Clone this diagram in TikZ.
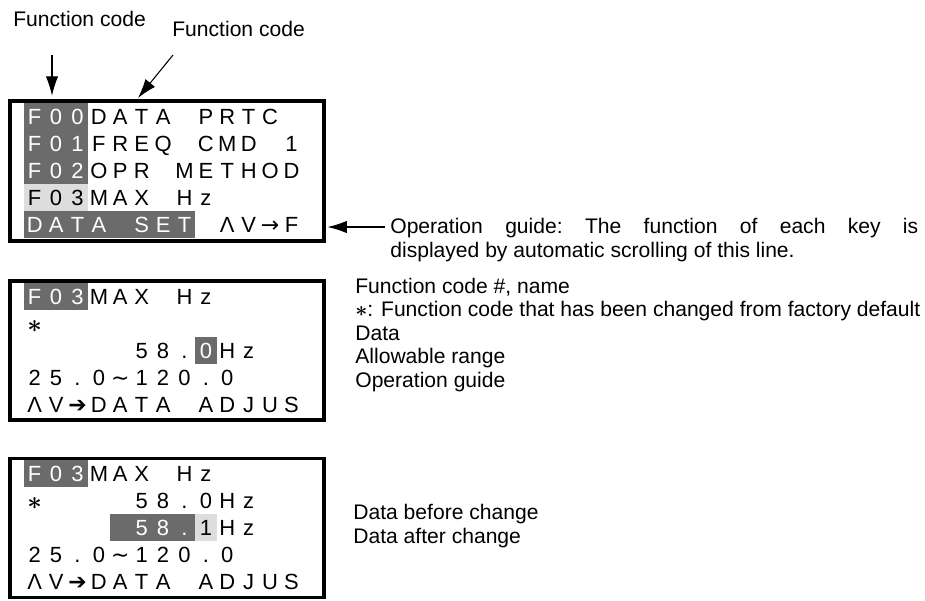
\documentclass[tikz,border=0pt]{standalone}
\usepackage{fontspec}
\setmainfont{Liberation Sans}
\newfontfamily\symfont{DejaVu Sans}
\usetikzlibrary{positioning,arrows.meta}
\definecolor{lcddark}{HTML}{6B6B6B}
\definecolor{lcdlight}{HTML}{DDDDDD}

\tikzset{
  lcdframe/.style={draw, line width=2pt, minimum width=6.28cm, inner sep=0pt},
  lcdchar/.style={anchor=base, inner sep=0pt, font=\fontsize{12.5}{14}\selectfont},
  inv/.style={text=white},
  note/.style={anchor=base west, inner sep=0pt, font=\fontsize{12}{13.3}\selectfont},
  ptr/.style={-{Latex[length=11pt,width=7pt]}, line width=0.6pt},
}

% one word of a display line: name prefix, row top, first column, letters
\newcommand{\lcdword}[5][]{%
  \foreach \ch [count=\k from #4] in {#5}
    \node[lcdchar,#1] (#2\k) at ({34.7+21.4*\k}, {#3+21}) {\ch};
}
\newcommand{\lcdast}{\raisebox{-1pt}{\fontsize{14.5}{14.5}\selectfont\boldmath$\ast$}}
\newcommand{\noteast}{{\boldmath$\ast$}}
\newcommand{\lcdarrow}{{\symfont\char"2794}}
\newcommand{\lcdwave}{{\symfont\char"223C}}

\begin{document}
\begin{tikzpicture}[x=0.02cm, y=-0.02cm]
  \useasboundingbox (0,0) rectangle (925,600);

  % Callouts above the first display
  \node[note] (fc1) at (13,26) {Function code};
  \node[note] (fc2) at (172,36) {Function code};

  % Display 1: function menu
  \node[lcdframe, minimum height=2.8cm] (box1) at (167,171) {};
  \fill[lcddark] (24,103) rectangle (88.2,184);
  \fill[lcdlight] (24,184) rectangle (88.2,211);
  \fill[lcddark] (24,211) rectangle (195.2,238);
  \lcdword[inv]{b1r0c}{103}{0}{F,0,0}
  \lcdword{b1r0c}{103}{3}{D,A,T,A}
  \lcdword{b1r0c}{103}{8}{P,R,T,C}
  \lcdword[inv]{b1r1c}{130}{0}{F,0,1}
  \lcdword{b1r1c}{130}{3}{F,R,E,Q}
  \lcdword{b1r1c}{130}{8}{C,M,D}
  \lcdword{b1r1c}{130}{12}{1}
  \lcdword[inv]{b1r2c}{157}{0}{F,0,2}
  \lcdword{b1r2c}{157}{3}{O,P,R}
  \lcdword{b1r2c}{157}{7}{M,E,T,H,O,D}
  \lcdword{b1r3c}{184}{0}{F,0,3}
  \lcdword{b1r3c}{184}{3}{M,A,X}
  \lcdword{b1r3c}{184}{7}{H,z}
  \lcdword[inv]{b1r4c}{211}{0}{D,A,T,A}
  \lcdword[inv]{b1r4c}{211}{5}{S,E,T}
  \lcdword{b1r4c}{211}{9}{Λ,V,{\symfont →},F}

  \coordinate (fc1tail) at (52,55);
  \coordinate (fc2tail) at (173,55);
  \coordinate (fc2tip) at (138,98);
  \draw[ptr, shorten >=2pt] (fc1tail) -- (fc1tail |- box1.north);
  \draw[ptr] (fc2tail) -- (fc2tip);

  \node[note, anchor=base west, text width=10.56cm, align=justify,
        font=\fontsize{12}{14.2}\selectfont\frenchspacing] (guide) at (390,233)
    {Operation guide: The function of each key is\linebreak
     displayed by automatic scrolling of this line.};
  \coordinate (guidetail) at (385,227);
  \draw[ptr, shorten >=1pt] (guidetail) -- (box1.east |- guidetail);

  % Display 2: data setting
  \node[lcdframe, minimum height=2.78cm] (box2) at (167,350.5) {};
  \fill[lcddark] (24,283) rectangle (88.2,310);
  \fill[lcddark] (195.2,337) rectangle (216.6,364);
  \lcdword[inv]{b2r0c}{283}{0}{F,0,3}
  \lcdword{b2r0c}{283}{3}{M,A,X}
  \lcdword{b2r0c}{283}{7}{H,z}
  \lcdword{b2r1c}{310}{0}{\lcdast}
  \lcdword{b2r2c}{337}{5}{5,8,.}
  \lcdword[inv]{b2r2c}{337}{8}{0}
  \lcdword{b2r2c}{337}{9}{H,z}
  \lcdword{b2r3c}{364}{0}{2,5,.,0,\lcdwave,1,2,0,.,0}
  \lcdword{b2r4c}{391}{0}{Λ,V,\lcdarrow,D,A,T,A}
  \lcdword{b2r4c}{391}{8}{A,D,J,U,S}

  \node[note] (n1) at (355,293) {Function code \#, name};
  \node[note] (n2) at (355,316.5) {\noteast: Function code that has been changed from factory default};
  \node[note] (n3) at (355,340) {Data};
  \node[note] (n4) at (355,363.5) {Allowable range};
  \node[note] (n5) at (355,387) {Operation guide};

  % Display 3: data being changed
  \node[lcdframe, minimum height=2.78cm] (box3) at (167,528) {};
  \fill[lcddark] (24,460) rectangle (88.2,487);
  \fill[lcddark] (109.6,514) rectangle (195.2,541);
  \fill[lcdlight] (195.2,514) rectangle (216.6,541);
  \lcdword[inv]{b3r0c}{460}{0}{F,0,3}
  \lcdword{b3r0c}{460}{3}{M,A,X}
  \lcdword{b3r0c}{460}{7}{H,z}
  \lcdword{b3r1c}{487}{0}{\lcdast}
  \lcdword{b3r1c}{487}{5}{5,8,.,0,H,z}
  \lcdword[inv]{b3r2c}{514}{5}{5,8,.}
  \lcdword{b3r2c}{514}{8}{1}
  \lcdword{b3r2c}{514}{9}{H,z}
  \lcdword{b3r3c}{541}{0}{2,5,.,0,\lcdwave,1,2,0,.,0}
  \lcdword{b3r4c}{568}{0}{Λ,V,\lcdarrow,D,A,T,A}
  \lcdword{b3r4c}{568}{8}{A,D,J,U,S}

  \node[note] (n6) at (353,519) {Data before change};
  \node[note] (n7) at (353,543) {Data after change};
\end{tikzpicture}
\end{document}
